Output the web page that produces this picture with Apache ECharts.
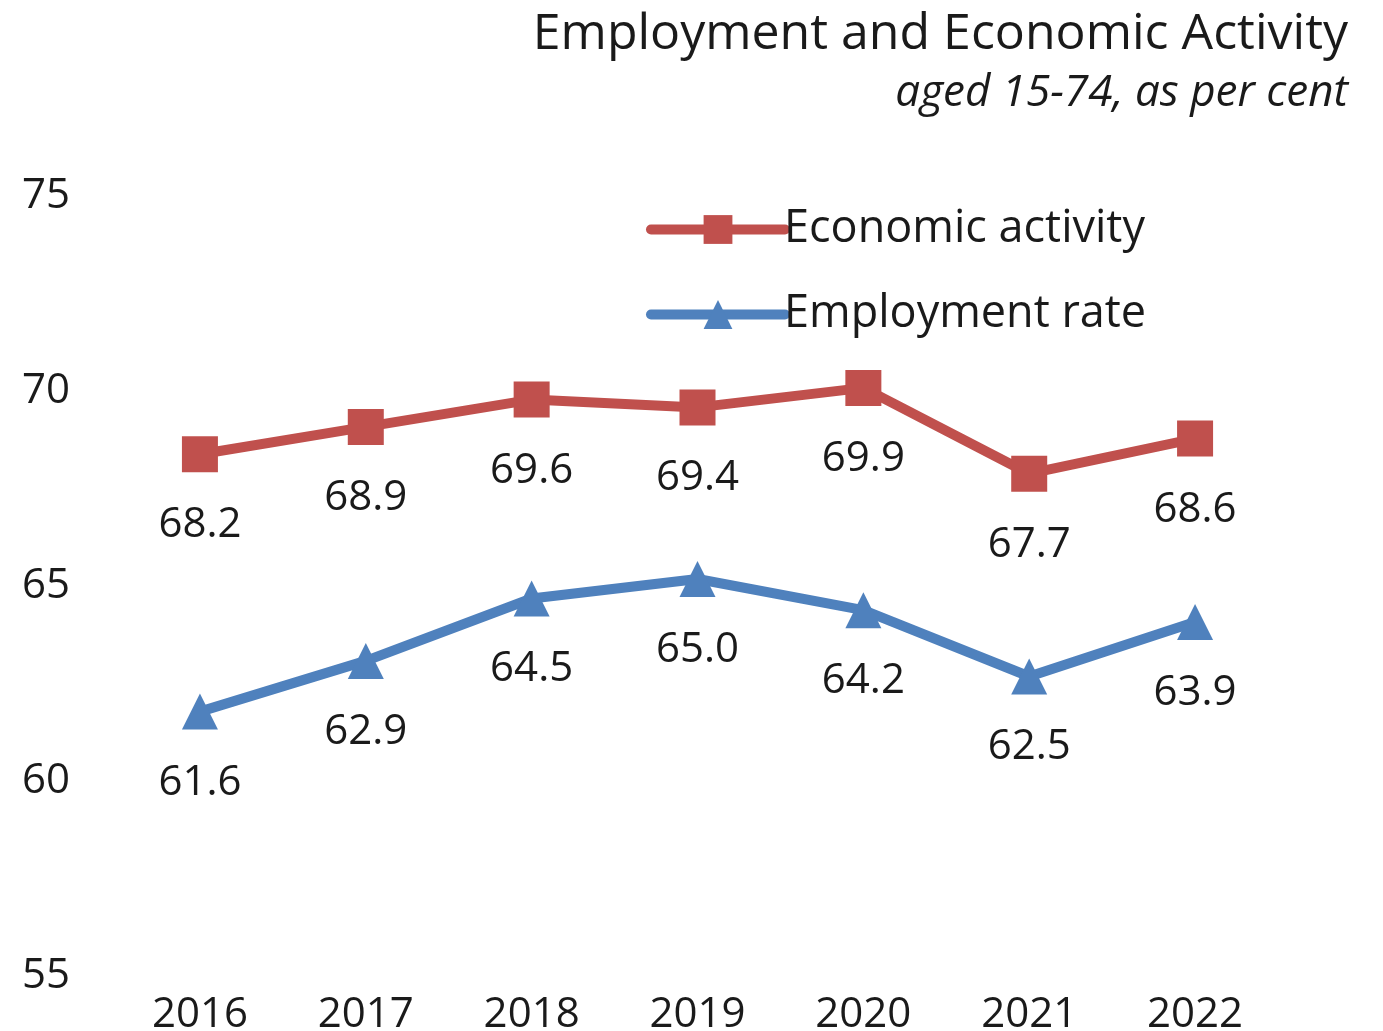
<!DOCTYPE html>
<html>
<head>
<meta charset="utf-8">
<style>
  html, body { margin: 0; padding: 0; background: #ffffff; }
  #chart { width: 1383px; height: 1031px; }
</style>
<script src="https://cdn.jsdelivr.net/npm/echarts@6/dist/echarts.min.js"></script>
</head>
<body>
<div id="chart"></div>
<script>
const years = ['2016', '2017', '2018', '2019', '2020', '2021', '2022'];
const economicActivity = [68.2, 68.9, 69.6, 69.4, 69.9, 67.7, 68.6];
const employmentRate = [61.6, 62.9, 64.5, 65.0, 64.2, 62.5, 63.9];

const FONT = '"Open Sans", Lato, sans-serif';
const TEXT = '#1a1a1a';
const RED = '#C0504D';
const BLUE = '#4F81BD';

const chart = echarts.init(document.getElementById('chart'));

const valueLabel = {
  show: true,
  position: 'bottom',
  distance: 32,
  fontFamily: FONT,
  fontSize: 42,
  color: TEXT,
  formatter: p => p.value.toFixed(1)
};

chart.setOption({
  backgroundColor: '#ffffff',
  animation: false,
  title: [
    {
      text: 'Employment and Economic Activity',
      right: 30,
      top: 5,
      textStyle: { fontFamily: FONT, fontSize: 50, lineHeight: 50, fontWeight: 'normal', color: TEXT }
    },
    {
      text: 'aged 15-74, as per cent',
      right: 30,
      top: 66,
      textStyle: { fontFamily: FONT, fontSize: 44, lineHeight: 44, fontStyle: 'italic', fontWeight: 'normal', color: TEXT }
    }
  ],
  legend: {
    orient: 'vertical',
    left: 641,
    top: 202,
    itemWidth: 134,
    itemHeight: 36,
    itemGap: 40,
    lineStyle: { width: 10, cap: 'round' },
    textStyle: { fontFamily: FONT, fontSize: 45, lineHeight: 44, color: TEXT, padding: [0, 0, 0, -6] },
    data: ['Economic activity', 'Employment rate']
  },
  grid: { left: 117, right: 105, top: 189, bottom: 62, outerBoundsMode: 'none' },
  xAxis: {
    type: 'category',
    data: years,
    boundaryGap: true,
    axisLine: { show: false },
    axisTick: { show: false },
    axisLabel: { margin: 25, fontFamily: FONT, fontSize: 42, color: TEXT }
  },
  yAxis: {
    type: 'value',
    min: 55,
    max: 75,
    interval: 5,
    axisLine: { show: false },
    axisTick: { show: false },
    splitLine: { show: false },
    axisLabel: {
      margin: 47,
      formatter: v => '{n|' + v + '}',
      rich: { n: { fontFamily: FONT, fontSize: 42, color: TEXT, padding: [14, 0, 0, 0] } }
    }
  },
  series: [
    {
      name: 'Economic activity',
      type: 'line',
      data: economicActivity,
      symbol: 'rect',
      symbolSize: 36,
      itemStyle: { color: RED },
      lineStyle: { width: 10, color: RED, cap: 'round', join: 'round' },
      label: valueLabel
    },
    {
      name: 'Employment rate',
      type: 'line',
      data: employmentRate,
      symbol: 'triangle',
      symbolSize: 36,
      itemStyle: { color: BLUE },
      lineStyle: { width: 10, color: BLUE, cap: 'round', join: 'round' },
      label: valueLabel
    }
  ]
});
</script>
</body>
</html>
